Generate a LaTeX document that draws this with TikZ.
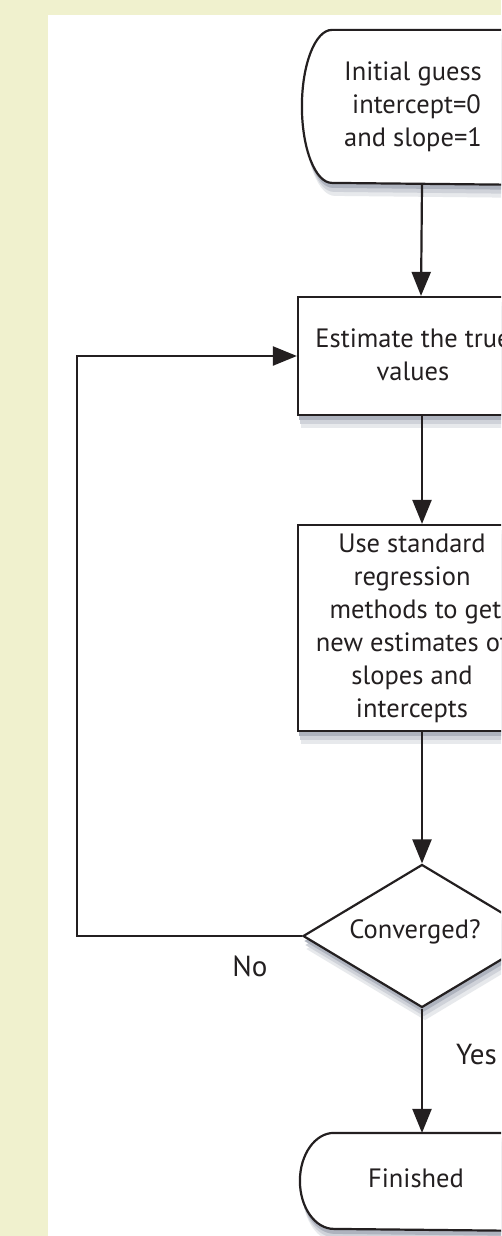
\documentclass[tikz,border=0pt]{standalone}
\usepackage{fontspec}
\setmainfont{PT Sans}
\usetikzlibrary{arrows.meta,shapes.geometric,shadows}
\definecolor{bgc}{RGB}{240,241,206}
\definecolor{ink}{RGB}{35,31,32}
\definecolor{shc}{RGB}{160,166,178}
\begin{document}
\begin{tikzpicture}[x=1pt,y=-1pt,
  line width=2.2pt,
  every node/.style={text=ink},
  txt/.style={font=\fontsize{26.5}{33}\selectfont, align=center, inner sep=0pt},
  lbl/.style={font=\fontsize{29}{33}\selectfont, inner sep=0pt},
  shd/.style={drop shadow={shadow xshift=3pt,shadow yshift=-13pt,fill=shc!25,opacity=1},
              drop shadow={shadow xshift=2pt,shadow yshift=-9pt,fill=shc!50,opacity=1},
              drop shadow={shadow xshift=1pt,shadow yshift=-5pt,fill=shc!85,opacity=1}},
  boxs/.style={draw=ink, fill=white, rectangle, minimum width=244pt, inner sep=0pt, shd},
  ghost/.style={draw=none, rectangle, minimum width=244pt, inner sep=0pt},
  decs/.style={draw=ink, fill=white, diamond, minimum width=238pt, minimum height=143pt, inner sep=0pt, shd},
  arr/.style={draw=ink, -{Triangle[length=24pt,width=19pt]}}
]
\useasboundingbox (0,0) rectangle (501,1236);
\clip (0,0) rectangle (501,1236);
\fill[bgc] (0,0) rectangle (501,1236);
\fill[white] (48,15) rectangle (501,1236);

% start terminal
\node[ghost, minimum height=153pt] (start) at (425,107.5) {};
\filldraw[draw=ink, fill=white, shd] (start.north east) -- ([xshift=30pt]start.north west)
  arc[start angle=90, end angle=270, x radius=30pt, y radius=76.5pt] -- (start.south east) -- cycle;
\node[txt] (startt) at (413,107) {Initial guess\\\ intercept=0\\and slope=1};

% box 1
\node[boxs, minimum height=118pt] (b1) at (420,356) {};
\node[txt] (b1t) at (413,355) {Estimate the true\\values};

% box 2
\node[boxs, minimum height=206pt] (b2) at (420,628) {};
\node[txt] (b2t) at (412,628) {Use standard\\regression\\\ methods to get\\new estimates of\\slopes and\\intercepts};

% decision
\node[decs] (dec) at (422,936) {};
\node[txt] (dect) at (415,932) {Converged?};

% finished terminal
\node[ghost, minimum height=96pt] (fin) at (423,1182) {};
\filldraw[draw=ink, fill=white, shd] (fin.north east) -- ([xshift=34pt]fin.north west)
  arc[start angle=90, end angle=270, x radius=34pt, y radius=48pt] -- (fin.south east) -- cycle;
\node[txt] (fint) at (416,1178) {Finished};

% connectors
\coordinate (lp) at (77,0);
\draw[arr] ([xshift=-3pt]start.south) -- ([xshift=1pt]b1.north);
\draw[arr] ([xshift=2pt]b1.south) -- ([xshift=2pt]b2.north);
\draw[arr] ([xshift=2pt]b2.south) -- (dec.north);
\draw[arr] (dec.south) -- ([xshift=-1pt]fin.north);
\draw[arr] (dec.west) -- (dec.west -| lp) |- (b1.west);

\node[lbl] (no) at (250,966) {No};
\node[lbl, anchor=west] (yes) at (455,1055) {Yes};
\end{tikzpicture}
\end{document}
